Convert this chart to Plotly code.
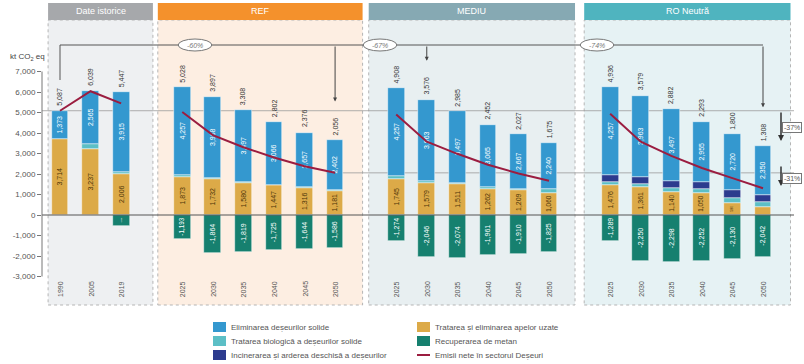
import plotly.graph_objects as go

# ---- data (kt CO2 eq) -------------------------------------------------------
group_names = ["Date istorice", "REF", "MEDIU", "RO Neutră"]
groups = ["Date istorice"] * 3 + ["REF"] * 6 + ["MEDIU"] * 6 + ["RO Neutră"] * 6
years = ["1990", "2005", "2019"] + ["2025", "2030", "2035", "2040", "2045", "2050"] * 3

solid_disposal = [1373, 2565, 3915,
                  4257, 3968, 3497, 3066, 2657, 2402,
                  4257, 3963, 3497, 3065, 2667, 2240,
                  4257, 3963, 3497, 2955, 2720, 2350]
biological = [0, 237, 70,
              91, 61, 50, 14, 47, 59,
              180, 80, 51, 86, 61, 200,
              150, 150, 200, 200, 250, 250]
incineration = [0, 0, 0,
                0, 0, 0, 0, 0, 0,
                0, 0, 0, 0, 0, 0,
                342, 355, 343, 340, 380, 350]
wastewater = [3714, 3237, 2006,
              1873, 1732, 1580, 1447, 1316, 1181,
              1745, 1579, 1511, 1262, 1209, 1060,
              1476, 1361, 1140, 1050, 580, 400]
methane_recovery = [0, 0, -544,
                    -1193, -1864, -1819, -1725, -1644, -1586,
                    -1274, -2046, -2074, -1961, -1910, -1825,
                    -1289, -2250, -2298, -2252, -2130, -2042]
net_emissions = [5087, 6039, 5447,
                 5028, 3897, 3308, 2802, 2376, 2056,
                 4908, 3576, 2985, 2452, 2027, 1675,
                 4936, 3579, 2882, 2293, 1800, 1308]

y_ticks = [-3000, -2000, -1000, 0, 1000, 2000, 3000, 4000, 5000, 6000, 7000]

# ---- colours -----------------------------------------------------------------
BLUE = "#3498cf"
LTEAL = "#5cbfc6"
NAVY = "#2c3b8e"
GOLD = "#dcaa48"
GREEN = "#16806f"
LINE = "#9b1d40"
TXT = "#555555"
FONT = "Liberation Sans, Arial, sans-serif"

# ---- geometry helpers (layout in pixels -> axis / paper units) ---------------
W, H = 804, 364
L_PX, R_PX, T_PX, B_PX = 42, 794, 3, 305      # plot area in page pixels
ZERO_PX, PX_PER_UNIT = 215, 0.0205             # y pixel of 0, pixels per kt
SLOT0_PX, SLOT_PX = 60, 30.565                 # x pixel of slot 0, pixels per slot
MIN_LABELLED = 500                             # segments smaller than this carry no label

Y_HI = (ZERO_PX - T_PX) / PX_PER_UNIT
Y_LO = (ZERO_PX - B_PX) / PX_PER_UNIT
X_LO = (L_PX - SLOT0_PX) / SLOT_PX
X_HI = X_LO + (R_PX - L_PX) / SLOT_PX


def py_val(py):
    return (ZERO_PX - py) / PX_PER_UNIT


def px_paper(px):
    return (px - L_PX) / (R_PX - L_PX)


def py_paper(py):
    return (B_PX - py) / (B_PX - T_PX)


def px_slot(px):
    return (px - SLOT0_PX) / SLOT_PX


# bar positions: one empty slot between groups
slots = [i + group_names.index(g) for i, g in enumerate(groups)]
gross = [a + b + c + d for a, b, c, d in zip(solid_disposal, biological, incineration, wastewater)]

fig = go.Figure()

# ---- stacked bars ------------------------------------------------------------
stack = [
    ("Tratarea și eliminarea apelor uzate", wastewater, GOLD, "#4d3508"),
    ("Tratarea biologică a deșeurilor solide", biological, LTEAL, "white"),
    ("Incinerarea și arderea deschisă a deșeurilor", incineration, NAVY, "white"),
    ("Eliminarea deșeurilor solide", solid_disposal, BLUE, "white"),
    ("Recuperarea de metan", methane_recovery, GREEN, "white"),
]
for name, vals, color, tcol in stack:
    fig.add_trace(go.Bar(
        x=slots, y=[v if v else None for v in vals], name=name,
        marker=dict(color=color, line=dict(color="rgba(255,255,255,0.8)", width=0.6)),
        width=0.55,
        text=[f"{v:,}" if abs(v) >= MIN_LABELLED else "" for v in vals],
        textposition="inside", insidetextanchor="middle", textangle=-90,
        textfont=dict(size=7, color=tcol, family=FONT),
        hoverinfo="skip", showlegend=False,
    ))

# ---- net emissions line, one segment per group --------------------------------
lx, ly = [], []
for g in group_names:
    for s, v, gg in zip(slots, net_emissions, groups):
        if gg == g:
            lx.append(s)
            ly.append(v)
    lx.append(None)
    ly.append(None)
fig.add_trace(go.Scatter(x=lx, y=ly, mode="lines", name="Emisii nete în sectorul Deșeuri",
                         line=dict(color=LINE, width=2), showlegend=False, hoverinfo="skip"))

shapes, annotations = [], []

# ---- scenario panels and headers ---------------------------------------------
panels = [
    ("Date istorice", -0.39, 3.04, "#a6a8ab", "#eef0f2"),
    ("REF", 3.2, 9.9, "#f4912c", "#fdeee2"),
    ("MEDIU", 10.1, 16.85, "#86a9b3", "#e8eff1"),
    ("RO Neutră", 17.15, 23.9, "#4fb4bf", "#e6f2f4"),
]
for title, x0, x1, hcol, fcol in panels:
    shapes.append(dict(type="rect", xref="x", yref="paper", x0=x0, x1=x1,
                       y0=0, y1=py_paper(20), fillcolor=fcol,
                       line=dict(color="#b5b5b5", width=1, dash="dot"), layer="below"))
    shapes.append(dict(type="rect", xref="x", yref="paper", x0=x0, x1=x1,
                       y0=py_paper(20), y1=py_paper(3), fillcolor=hcol,
                       line=dict(width=0), layer="below"))
    annotations.append(dict(x=(x0 + x1) / 2, y=py_paper(11.5), xref="x", yref="paper",
                            xanchor="center", yanchor="middle",
                            text=title, showarrow=False,
                            font=dict(size=9, color="white", family=FONT)))

# reference levels: 1990 net emissions and REF 2050 net emissions
i1990 = 0
iref50 = max(i for i, g in enumerate(groups) if g == "REF")
shapes.append(dict(type="line", xref="paper", yref="y", x0=0, x1=1,
                   y0=net_emissions[i1990], y1=net_emissions[i1990],
                   line=dict(color="#9a9a9a", width=0.8), layer="below"))
shapes.append(dict(type="line", xref="x", yref="y", x0=slots[iref50] - 0.3, x1=X_HI,
                   y0=net_emissions[iref50], y1=net_emissions[iref50],
                   line=dict(color="#9a9a9a", width=0.8), layer="below"))
# zero line
shapes.append(dict(type="line", xref="paper", yref="y", x0=0, x1=1, y0=0, y1=0,
                   line=dict(color="#555555", width=1.2)))
# y axis line
shapes.append(dict(type="line", xref="paper", yref="y", x0=0, x1=0,
                   y0=y_ticks[0], y1=y_ticks[-1], line=dict(color="#777777", width=1)))

# ---- net labels above bars and year labels ------------------------------------
for s, top, v, yr in zip(slots, gross, net_emissions, years):
    annotations.append(dict(x=s, y=top, xref="x", yref="y", text=f"{v:,}",
                            textangle=-90, yanchor="bottom", yshift=3, showarrow=False,
                            font=dict(size=7, color="#333333", family=FONT)))
    annotations.append(dict(x=s, y=py_val(289), xref="x", yref="y", text=yr,
                            textangle=-90, yanchor="middle", showarrow=False,
                            font=dict(size=7, color=TXT, family=FONT)))

# ---- reduction bracket vs. 1990 -----------------------------------------------
BR_Y = py_val(45)
last_idx = {g: max(i for i, gg in enumerate(groups) if gg == g) for g in group_names}
ro50 = last_idx["RO Neutră"]
shapes.append(dict(type="line", xref="x", yref="y", x0=slots[i1990], x1=slots[ro50],
                   y0=BR_Y, y1=BR_Y, line=dict(color="#555555", width=1)))
shapes.append(dict(type="line", xref="x", yref="y", x0=slots[i1990], x1=slots[i1990],
                   y0=BR_Y, y1=py_val(80), line=dict(color="#555555", width=1)))

ellipse_px = {"REF": 195, "MEDIU": 380, "RO Neutră": 597}
for g, epx in ellipse_px.items():
    idx = last_idx[g]
    pct = round((net_emissions[idx] / net_emissions[i1990] - 1) * 100)
    ex = px_slot(epx)
    shapes.append(dict(type="circle", xref="x", yref="y", x0=ex - 0.55, x1=ex + 0.55,
                       y0=py_val(51), y1=py_val(39), fillcolor="white",
                       line=dict(color="#777777", width=1)))
    annotations.append(dict(x=ex, y=BR_Y, xref="x", yref="y", text=f"<i>{pct}%</i>",
                            xanchor="center", yanchor="middle",
                            showarrow=False, font=dict(size=7, color="#777777", family=FONT)))

# arrows down from the bracket
arrow_targets = [last_idx["REF"], last_idx["MEDIU"] - 4, ro50]
for idx in arrow_targets:
    annotations.append(dict(x=slots[idx], y=gross[idx] + 1900, ax=slots[idx], ay=BR_Y,
                            xref="x", yref="y", axref="x", ayref="y", text="",
                            showarrow=True, arrowhead=2, arrowsize=0.8, arrowwidth=1,
                            arrowcolor="#444444"))

# right-hand markers
mx = px_slot(781)
for y0p, y1p, lab, lp in [(111, 141, "-37%", 127), (165, 186, "-31%", 178)]:
    annotations.append(dict(x=mx, y=py_val(y1p), ax=mx, ay=py_val(y0p),
                            xref="x", yref="y", axref="x", ayref="y", text="",
                            showarrow=True, arrowhead=2, arrowsize=0.8, arrowwidth=1.5,
                            arrowcolor="#333333"))
    annotations.append(dict(x=px_paper(802), y=py_val(lp), xref="paper", yref="y",
                            xanchor="right", yanchor="middle", text=lab, showarrow=False,
                            bordercolor="#777777", borderwidth=1, borderpad=1, bgcolor="white",
                            font=dict(size=7, color="#555555", family=FONT)))

# axis title
annotations.append(dict(x=px_paper(8), y=py_val(57), xref="paper", yref="y",
                        xanchor="left", yanchor="middle",
                        text="kt CO<sub>2</sub> eq", showarrow=False,
                        font=dict(size=8, color="#444444", family=FONT)))

# ---- legend (two columns) -----------------------------------------------------
legend_items = [
    (213, 327, "Eliminarea deșeurilor solide", BLUE, "box"),
    (213, 341, "Tratarea biologică a deșeurilor solide", LTEAL, "box"),
    (213, 355, "Incinerarea și arderea deschisă a deșeurilor", NAVY, "box"),
    (417, 327, "Tratarea și eliminarea apelor uzate", GOLD, "box"),
    (417, 341, "Recuperarea de metan", GREEN, "box"),
    (417, 355, "Emisii nete în sectorul Deșeuri", LINE, "line"),
]
for lx0, ly0, label, col, kind in legend_items:
    if kind == "box":
        shapes.append(dict(type="rect", xref="paper", yref="paper",
                           x0=px_paper(lx0), x1=px_paper(lx0 + 13),
                           y0=py_paper(ly0 + 5), y1=py_paper(ly0 - 5),
                           fillcolor=col, line=dict(width=0)))
    else:
        shapes.append(dict(type="line", xref="paper", yref="paper",
                           x0=px_paper(lx0), x1=px_paper(lx0 + 13),
                           y0=py_paper(ly0), y1=py_paper(ly0),
                           line=dict(color=col, width=2)))
    annotations.append(dict(x=px_paper(lx0 + 16), y=py_paper(ly0), xref="paper", yref="paper",
                            xanchor="left", yanchor="middle", text=label, showarrow=False,
                            font=dict(size=8, color=TXT, family=FONT)))

fig.update_layout(
    width=W, height=H,
    margin=dict(l=L_PX, r=W - R_PX, t=T_PX, b=H - B_PX, pad=0),
    paper_bgcolor="white", plot_bgcolor="rgba(0,0,0,0)",
    barmode="relative", bargap=0,
    xaxis=dict(range=[X_LO, X_HI], visible=False, fixedrange=True),
    yaxis=dict(range=[Y_LO, Y_HI], showgrid=False, zeroline=False, showline=False,
               tickvals=y_ticks, ticktext=[f"{v:,}" for v in y_ticks],
               ticks="outside", ticklen=4, tickcolor="#777777",
               tickfont=dict(size=8, color=TXT, family=FONT), fixedrange=True),
    shapes=shapes, annotations=annotations,
    font=dict(family=FONT),
)

fig.write_html("out.html")
